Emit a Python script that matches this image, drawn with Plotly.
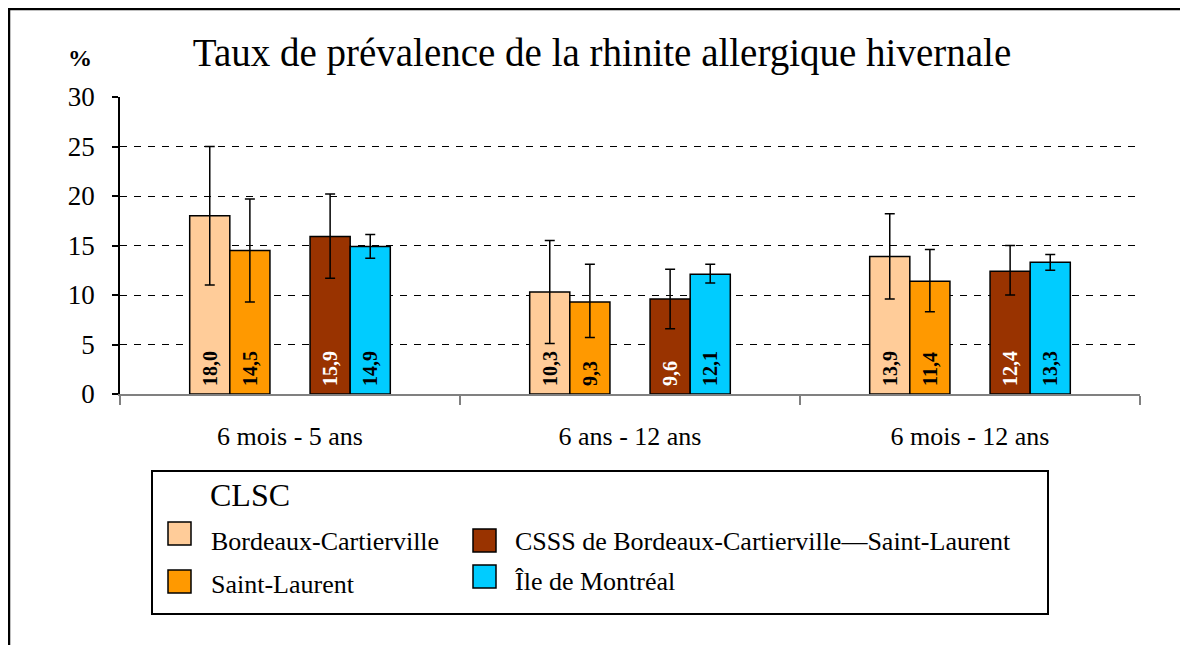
import plotly.graph_objects as go

# Données
age_groups = ["6 mois - 5 ans", "6 ans - 12 ans", "6 mois - 12 ans"]
series_names = [
    "Bordeaux-Cartierville",
    "Saint-Laurent",
    "CSSS de Bordeaux-Cartierville—Saint-Laurent",
    "Île de Montréal",
]
bordeaux = [18.0, 10.3, 13.9]
bordeaux_low = [11.0, 5.1, 9.6]
bordeaux_high = [25.0, 15.5, 18.2]
saint_laurent = [14.5, 9.3, 11.4]
saint_laurent_low = [9.3, 5.7, 8.3]
saint_laurent_high = [19.7, 13.1, 14.6]
csss = [15.9, 9.6, 12.4]
csss_low = [11.7, 6.6, 10.0]
csss_high = [20.2, 12.6, 15.0]
ile_montreal = [14.9, 12.1, 13.3]
ile_montreal_low = [13.7, 11.2, 12.5]
ile_montreal_high = [16.1, 13.1, 14.1]
y_ticks = [0, 5, 10, 15, 20, 25, 30]

colors = ["#FFCC99", "#FF9900", "#993300", "#00CCFF"]
text_colors = ["black", "black", "white", "black"]
slots = [0, 1, 3, 4]  # place 2 laissée vide entre les deux paires

# la page HTML a une marge de 8px : figure réduite, coordonnées en pixels de l'image
OFF = 8
W, H = 1188 - 2 * OFF, 653 - 2 * OFF
L, R, T, B = 120, 1140, 97, 394
SERIF = "Liberation Serif"


def px(x):
    return (x - L) / (R - L)


def py(y):
    return (B - y) / (B - T)


def fmt(v):
    return f"{v:.1f}".replace(".", ",")


values = [bordeaux, saint_laurent, csss, ile_montreal]
lows = [bordeaux_low, saint_laurent_low, csss_low, ile_montreal_low]
highs = [bordeaux_high, saint_laurent_high, csss_high, ile_montreal_high]

bar_w = 0.118
fig = go.Figure()
for name, vals, lo, hi, col, tcol, k in zip(series_names, values, lows, highs,
                                           colors, text_colors, slots):
    fig.add_trace(go.Bar(
        x=age_groups, y=vals, name=name,
        width=bar_w, offset=-2.5 * bar_w + k * bar_w,
        marker=dict(color=col, line=dict(color="black", width=1.5)),
        text=[" " + fmt(v) for v in vals],
        textposition="inside", insidetextanchor="start", textangle=-90,
        textfont=dict(family=SERIF, size=20, color=tcol, weight="bold"),
        error_y=dict(type="data", symmetric=False,
                     array=[h - v for h, v in zip(hi, vals)],
                     arrayminus=[v - l for v, l in zip(vals, lo)],
                     color="black", thickness=1.5, width=5),
        showlegend=False,
    ))

shapes = [
    # cadre de l'image (gauche et haut)
    dict(type="line", xref="paper", yref="paper", x0=px(9), x1=px(9), y0=py(8), y1=py(700),
         line=dict(color="black", width=2.5)),
    dict(type="line", xref="paper", yref="paper", x0=px(8), x1=px(1200), y0=py(9), y1=py(9),
         line=dict(color="black", width=2.5)),
    # boîte de la légende
    dict(type="rect", xref="paper", yref="paper", x0=px(152), x1=px(1048), y0=py(471), y1=py(614),
         line=dict(color="black", width=2), fillcolor="white"),
]
annotations = [
    dict(text="<b>%</b>", x=px(80), y=py(58), xref="paper", yref="paper",
         xanchor="center", yanchor="middle",
         showarrow=False, font=dict(family=SERIF, size=24, color="black")),
    dict(text="CLSC", x=px(208), y=py(495), xref="paper", yref="paper",
         xanchor="left", yanchor="middle",
         showarrow=False, font=dict(family=SERIF, size=32, color="black")),
]

# légende dessinée à la main (2 colonnes)
swatch_pos = [(168, 522), (168, 570), (473, 529), (473, 565)]
label_pos = [(209, 541), (209, 584), (513, 541), (513, 581)]
for name, col, (sx, sy), (lx, ly) in zip(series_names, colors, swatch_pos, label_pos):
    shapes.append(dict(type="rect", xref="paper", yref="paper",
                       x0=px(sx), x1=px(sx + 23), y0=py(sy), y1=py(sy + 23),
                       fillcolor=col, line=dict(color="black", width=1.5)))
    annotations.append(dict(text=name, x=px(lx), y=py(ly), xref="paper", yref="paper",
                            xanchor="left", yanchor="middle", showarrow=False,
                            font=dict(family=SERIF, size=26, color="black")))

fig.update_layout(
    width=W, height=H,
    margin=dict(l=L - OFF, r=W - (R - OFF), t=T - OFF, b=H - (B - OFF), pad=0),
    paper_bgcolor="white", plot_bgcolor="white",
    barmode="overlay",
    font=dict(family=SERIF, color="black"),
    title=dict(text="Taux de prévalence de la rhinite allergique hivernale",
               x=px(602), xref="paper", xanchor="center",
               y=1 - (52 - OFF) / H, yanchor="middle",
               font=dict(family=SERIF, size=39, color="black")),
    shapes=shapes,
    annotations=annotations,
)
fig.update_yaxes(
    range=[0, 30], tickvals=y_ticks,
    showline=True, linecolor="black", linewidth=1.5,
    ticks="outside", ticklen=6, tickcolor="black", tickwidth=1.5,
    ticklabelstandoff=12,
    tickfont=dict(family=SERIF, size=27, color="black"),
    showgrid=True, gridcolor="black", gridwidth=1, griddash="7px,7px",
    zeroline=False,
)
fig.update_xaxes(
    type="category", range=[-0.5, 2.5],
    showline=True, linecolor="#808080", linewidth=1.5,
    ticks="outside", tickson="boundaries", ticklen=9, tickcolor="#808080", tickwidth=1.5,
    ticklabelstandoff=18,
    tickfont=dict(family=SERIF, size=26, color="black"),
    showgrid=False,
)

fig.write_html("out.html")
